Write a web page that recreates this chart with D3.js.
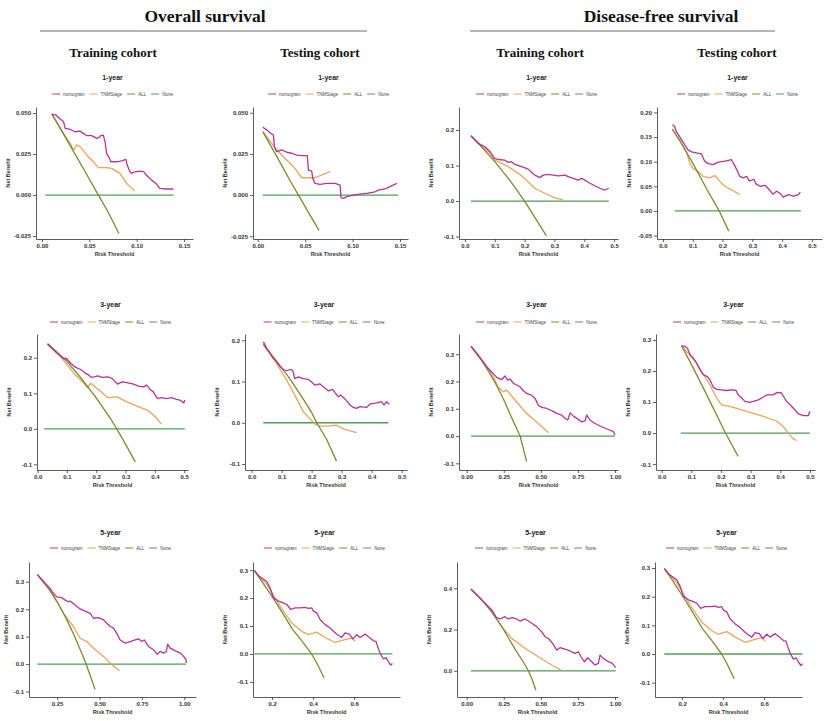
<!DOCTYPE html>
<html>
<head>
<meta charset="utf-8">
<script src="https://cdn.jsdelivr.net/npm/d3@7"></script>
<style>
  body { margin: 0; background: #fff; }
  svg { display: block; }
  .hdr { font-family: "Liberation Serif", "Times New Roman", serif; font-weight: bold; fill: #111; }
  .axis path, .axis line { stroke: #333; stroke-width: 0.8; }
  .axis text { font-family: "Liberation Sans", Arial, sans-serif; font-size: 6px; font-weight: bold; fill: #333; }
  .ptitle { font-family: "Liberation Sans", Arial, sans-serif; font-size: 7px; font-weight: bold; fill: #222; }
  .lab { font-family: "Liberation Sans", Arial, sans-serif; font-size: 5.5px; font-weight: bold; fill: #333; }
  .leg { font-family: "Liberation Sans", Arial, sans-serif; font-size: 4.5px; fill: #444; }
</style>
</head>
<body>
<svg id="fig" width="825" height="721"></svg>
<script>
'use strict';

var W = 825, H = 721;

// series names / colours
var seriesNames = ['nomogram', 'TNMStage', 'ALL', 'None'];
var seriesColors = ['#b3349a', '#e8a55c', '#7c8a30', '#4f9d55'];

// ---- Overall survival, training cohort, 1-year : [threshold, net benefit]
var osTr1Nomo = [[0.0105,0.0494],[0.015,0.0488],[0.017,0.0474],[0.0228,0.0447],[0.0245,0.0407],[0.03,0.0400],[0.035,0.0386],[0.04,0.039],[0.0438,0.0376],[0.0473,0.0362],[0.0526,0.0362],[0.0578,0.0346],[0.060,0.035],[0.062,0.0362],[0.0648,0.0366],[0.0666,0.0325],[0.0683,0.0254],[0.071,0.0228],[0.0729,0.0203],[0.0789,0.0203],[0.0841,0.0209],[0.0887,0.0217],[0.09,0.0183],[0.0929,0.0142],[0.0946,0.0132],[0.0981,0.0142],[0.1034,0.0146],[0.1076,0.0142],[0.11,0.0122],[0.1157,0.0091],[0.121,0.0067],[0.1244,0.0041],[0.1314,0.0037],[0.139,0.0037]];
var osTr1Tnm = [[0.0105,0.0494],[0.0228,0.0376],[0.0298,0.0315],[0.0333,0.0274],[0.0368,0.0305],[0.0403,0.0295],[0.0473,0.0244],[0.0543,0.0203],[0.0596,0.0167],[0.0683,0.0167],[0.0736,0.0163],[0.0824,0.0132],[0.0894,0.0071],[0.0981,0.0024]];
var osTr1All = [[0.0105,0.0494],[0.03,0.0300],[0.045,0.0148],[0.0596,0.0],[0.07,-0.0105],[0.0813,-0.0234]];
var osTr1None = [[0.0035,0],[0.139,0]];

// ---- Overall survival, testing cohort, 1-year
var osTe1Nomo = [[0.0053,0.0412],[0.0095,0.0396],[0.0137,0.0375],[0.0165,0.0365],[0.0176,0.0294],[0.02,0.0264],[0.0253,0.0274],[0.0306,0.026],[0.0358,0.0254],[0.0411,0.0243],[0.0464,0.0239],[0.0523,0.0239],[0.0534,0.0152],[0.0569,0.0146],[0.058,0.0101],[0.0604,0.0071],[0.0657,0.0065],[0.0727,0.0071],[0.0815,0.0071],[0.0868,0.0061],[0.0878,-0.0016],[0.0903,-0.002],[0.0938,-0.001],[0.1008,0.0],[0.1078,0.0006],[0.1149,0.001],[0.1236,0.002],[0.1272,0.003],[0.1342,0.0037],[0.1394,0.0051],[0.1465,0.0071]];
var osTe1Tnm = [[0.0053,0.0385],[0.02,0.0274],[0.0306,0.0213],[0.0393,0.0162],[0.0464,0.0105],[0.0551,0.0105],[0.0604,0.0105],[0.0692,0.0126],[0.0762,0.0142]];
var osTe1All = [[0.0053,0.0385],[0.02,0.0235],[0.035,0.0078],[0.0429,0.0],[0.055,-0.012],[0.0646,-0.0215]];
var osTe1None = [[0.0053,0],[0.148,0]];

// ---- Disease-free survival, training cohort, 1-year
var dfsTr1Nomo = [[0.02,0.184],[0.045,0.162],[0.067,0.153],[0.084,0.139],[0.1,0.12],[0.112,0.117],[0.134,0.115],[0.145,0.109],[0.156,0.111],[0.167,0.103],[0.19,0.097],[0.212,0.09],[0.223,0.081],[0.234,0.073],[0.251,0.066],[0.262,0.073],[0.279,0.075],[0.296,0.073],[0.3125,0.071],[0.335,0.073],[0.346,0.069],[0.363,0.064],[0.379,0.059],[0.391,0.064],[0.402,0.059],[0.413,0.053],[0.435,0.043],[0.452,0.036],[0.469,0.031],[0.482,0.036]];
var dfsTr1Tnm = [[0.02,0.184],[0.078,0.139],[0.1,0.115],[0.123,0.106],[0.145,0.097],[0.179,0.078],[0.206,0.059],[0.234,0.036],[0.268,0.022],[0.301,0.009],[0.329,0.003]];
var dfsTr1All = [[0.02,0.184],[0.05,0.158],[0.1,0.111],[0.15,0.059],[0.2,0.0],[0.25,-0.067],[0.273,-0.098]];
var dfsTr1None = [[0.02,0],[0.482,0]];

// ---- Disease-free survival, testing cohort, 1-year
var dfsTe1Nomo = [[0.0315,0.175],[0.039,0.172],[0.045,0.161],[0.056,0.151],[0.073,0.134],[0.084,0.124],[0.096,0.12],[0.112,0.118],[0.129,0.116],[0.14,0.101],[0.152,0.096],[0.169,0.094],[0.185,0.099],[0.208,0.101],[0.23,0.104],[0.242,0.091],[0.253,0.077],[0.258,0.07],[0.27,0.067],[0.281,0.07],[0.29,0.061],[0.306,0.064],[0.312,0.055],[0.326,0.05],[0.343,0.052],[0.354,0.045],[0.369,0.034],[0.382,0.04],[0.393,0.036],[0.404,0.028],[0.421,0.033],[0.438,0.03],[0.455,0.033],[0.461,0.038]];
var dfsTe1Tnm = [[0.0315,0.166],[0.062,0.138],[0.079,0.12],[0.09,0.097],[0.101,0.086],[0.118,0.08],[0.135,0.07],[0.157,0.067],[0.174,0.072],[0.191,0.06],[0.208,0.05],[0.23,0.043],[0.258,0.033]];
var dfsTe1All = [[0.0315,0.166],[0.06,0.139],[0.1,0.097],[0.15,0.041],[0.189,0.0],[0.221,-0.041]];
var dfsTe1None = [[0.039,0],[0.463,0]];

// ---- Overall survival, training cohort, 3-year
var osTr3Nomo = [[0.034,0.238],[0.068,0.212],[0.088,0.198],[0.099,0.198],[0.113,0.184],[0.13,0.173],[0.147,0.167],[0.164,0.156],[0.175,0.151],[0.183,0.145],[0.194,0.146],[0.205,0.149],[0.22,0.145],[0.239,0.146],[0.254,0.142],[0.265,0.132],[0.273,0.126],[0.288,0.132],[0.305,0.13],[0.327,0.126],[0.344,0.12],[0.361,0.118],[0.372,0.123],[0.384,0.111],[0.395,0.104],[0.401,0.095],[0.409,0.085],[0.423,0.088],[0.44,0.085],[0.457,0.088],[0.474,0.083],[0.485,0.081],[0.499,0.073],[0.502,0.081]];
var osTr3Tnm = [[0.034,0.238],[0.079,0.203],[0.124,0.156],[0.158,0.128],[0.169,0.116],[0.181,0.128],[0.209,0.109],[0.239,0.088],[0.271,0.09],[0.305,0.076],[0.339,0.064],[0.378,0.051],[0.401,0.034],[0.423,0.013]];
var osTr3All = [[0.034,0.24],[0.1,0.19],[0.15,0.141],[0.2,0.087],[0.25,0.027],[0.27,0.0],[0.3,-0.043],[0.333,-0.093]];
var osTr3None = [[0.023,0],[0.502,0]];

// ---- Overall survival, testing cohort, 3-year
var osTe3Nomo = [[0.039,0.196],[0.044,0.19],[0.05,0.18],[0.059,0.172],[0.072,0.156],[0.083,0.148],[0.094,0.137],[0.106,0.129],[0.117,0.126],[0.128,0.129],[0.137,0.127],[0.144,0.107],[0.156,0.111],[0.172,0.107],[0.189,0.105],[0.2,0.099],[0.211,0.091],[0.228,0.094],[0.239,0.087],[0.256,0.077],[0.27,0.081],[0.278,0.073],[0.289,0.063],[0.297,0.067],[0.306,0.061],[0.317,0.053],[0.328,0.043],[0.339,0.037],[0.35,0.035],[0.361,0.039],[0.383,0.037],[0.394,0.045],[0.417,0.048],[0.433,0.051],[0.441,0.043],[0.45,0.051],[0.459,0.045]];
var osTe3Tnm = [[0.039,0.19],[0.083,0.144],[0.117,0.103],[0.144,0.067],[0.172,0.027],[0.194,0.01],[0.211,-0.003],[0.228,-0.008],[0.256,-0.008],[0.283,-0.006],[0.311,-0.016],[0.35,-0.024]];
var osTe3All = [[0.039,0.19],[0.08,0.152],[0.12,0.114],[0.16,0.071],[0.2,0.025],[0.217,0.0],[0.25,-0.04],[0.283,-0.093]];
var osTe3None = [[0.039,0],[0.456,0]];

// ---- Disease-free survival, training cohort, 3-year
var dfsTr3Nomo = [[0.029,0.329],[0.079,0.296],[0.112,0.272],[0.135,0.254],[0.169,0.235],[0.202,0.215],[0.236,0.207],[0.258,0.22],[0.276,0.205],[0.292,0.209],[0.315,0.193],[0.337,0.187],[0.36,0.18],[0.382,0.166],[0.404,0.156],[0.434,0.15],[0.461,0.138],[0.483,0.113],[0.506,0.105],[0.539,0.101],[0.573,0.093],[0.607,0.083],[0.64,0.077],[0.663,0.065],[0.681,0.059],[0.697,0.085],[0.719,0.073],[0.753,0.061],[0.775,0.052],[0.798,0.056],[0.809,0.077],[0.831,0.059],[0.865,0.046],[0.91,0.034],[0.955,0.024],[0.989,0.016],[1.0,0.004]];
var dfsTr3Tnm = [[0.029,0.329],[0.124,0.262],[0.169,0.229],[0.213,0.178],[0.247,0.162],[0.27,0.168],[0.326,0.132],[0.393,0.089],[0.416,0.077],[0.483,0.046],[0.551,0.012]];
var dfsTr3All = [[0.029,0.329],[0.1,0.277],[0.15,0.235],[0.2,0.187],[0.25,0.133],[0.3,0.071],[0.36,0.0],[0.404,-0.094]];
var dfsTr3None = [[0.029,0],[1.0,0]];

// ---- Disease-free survival, testing cohort, 3-year
var dfsTe3Nomo = [[0.067,0.281],[0.079,0.279],[0.087,0.273],[0.096,0.252],[0.107,0.241],[0.118,0.225],[0.129,0.204],[0.14,0.188],[0.154,0.182],[0.163,0.171],[0.174,0.148],[0.185,0.141],[0.202,0.139],[0.219,0.137],[0.236,0.139],[0.251,0.137],[0.258,0.123],[0.27,0.113],[0.281,0.102],[0.296,0.099],[0.309,0.102],[0.326,0.107],[0.343,0.116],[0.356,0.123],[0.376,0.123],[0.39,0.131],[0.404,0.129],[0.412,0.116],[0.421,0.102],[0.433,0.091],[0.449,0.075],[0.461,0.062],[0.478,0.056],[0.494,0.056],[0.5,0.07]];
var dfsTe3Tnm = [[0.067,0.281],[0.118,0.225],[0.163,0.155],[0.185,0.113],[0.202,0.091],[0.23,0.086],[0.287,0.07],[0.343,0.054],[0.388,0.038],[0.41,0.021],[0.427,0.0],[0.444,-0.019],[0.455,-0.024]];
var dfsTe3All = [[0.067,0.281],[0.1,0.222],[0.15,0.127],[0.2,0.03],[0.215,0.0],[0.258,-0.075]];
var dfsTe3None = [[0.064,0],[0.5,0]];

// ---- Overall survival, training cohort, 5-year
var osTr5Nomo = [[0.134,0.326],[0.169,0.302],[0.209,0.276],[0.228,0.258],[0.248,0.245],[0.278,0.242],[0.298,0.233],[0.317,0.227],[0.327,0.23],[0.356,0.215],[0.386,0.201],[0.415,0.193],[0.445,0.185],[0.465,0.167],[0.494,0.169],[0.524,0.161],[0.543,0.149],[0.563,0.137],[0.583,0.131],[0.602,0.112],[0.622,0.088],[0.652,0.076],[0.681,0.082],[0.711,0.088],[0.73,0.092],[0.75,0.082],[0.764,0.088],[0.789,0.064],[0.819,0.052],[0.839,0.036],[0.858,0.046],[0.878,0.04],[0.894,0.046],[0.902,0.073],[0.917,0.058],[0.947,0.048],[0.976,0.04],[0.996,0.028],[1.01,0.016],[1.012,0.004]];
var osTr5Tnm = [[0.134,0.326],[0.228,0.252],[0.287,0.185],[0.346,0.137],[0.386,0.094],[0.425,0.082],[0.465,0.058],[0.524,0.028],[0.573,-0.002],[0.618,-0.024]];
var osTr5All = [[0.134,0.326],[0.2,0.275],[0.25,0.227],[0.3,0.171],[0.35,0.106],[0.4,0.033],[0.421,0.0],[0.45,-0.05],[0.474,-0.093]];
var osTr5None = [[0.134,0],[1.01,0]];

// ---- Overall survival, testing cohort, 5-year
var osTe5Nomo = [[0.114,0.298],[0.133,0.28],[0.158,0.267],[0.174,0.259],[0.19,0.237],[0.207,0.201],[0.231,0.189],[0.255,0.183],[0.272,0.177],[0.291,0.159],[0.312,0.165],[0.337,0.165],[0.361,0.167],[0.377,0.163],[0.393,0.165],[0.402,0.153],[0.418,0.147],[0.434,0.123],[0.459,0.105],[0.483,0.093],[0.499,0.081],[0.519,0.069],[0.54,0.059],[0.556,0.075],[0.577,0.071],[0.594,0.054],[0.613,0.069],[0.629,0.059],[0.654,0.071],[0.675,0.059],[0.694,0.047],[0.707,0.045],[0.719,0.018],[0.73,-0.001],[0.743,-0.018],[0.756,-0.013],[0.768,-0.028],[0.779,-0.04],[0.787,-0.034]];
var osTe5Tnm = [[0.114,0.298],[0.174,0.249],[0.239,0.171],[0.296,0.111],[0.345,0.081],[0.377,0.069],[0.418,0.078],[0.459,0.059],[0.507,0.041],[0.556,0.051],[0.589,0.057],[0.605,0.045]];
var osTe5All = [[0.114,0.298],[0.15,0.26],[0.2,0.205],[0.25,0.148],[0.3,0.088],[0.35,0.042],[0.393,0.0],[0.42,-0.035],[0.454,-0.086]];
var osTe5None = [[0.114,0],[0.787,0]];

// ---- Disease-free survival, training cohort, 5-year
var dfsTr5Nomo = [[0.029,0.395],[0.079,0.36],[0.124,0.327],[0.169,0.295],[0.202,0.257],[0.225,0.251],[0.258,0.262],[0.281,0.251],[0.308,0.257],[0.337,0.251],[0.36,0.241],[0.393,0.251],[0.416,0.241],[0.438,0.23],[0.472,0.214],[0.506,0.189],[0.528,0.165],[0.555,0.154],[0.584,0.128],[0.607,0.1],[0.629,0.112],[0.663,0.105],[0.697,0.096],[0.73,0.084],[0.753,0.092],[0.771,0.068],[0.793,0.044],[0.816,0.063],[0.843,0.044],[0.865,0.028],[0.888,0.036],[0.899,0.076],[0.921,0.06],[0.955,0.044],[0.982,0.036],[1.004,0.015]];
var dfsTr5Tnm = [[0.029,0.395],[0.146,0.311],[0.236,0.214],[0.303,0.157],[0.393,0.109],[0.483,0.068],[0.573,0.028],[0.636,0.003]];
var dfsTr5All = [[0.029,0.397],[0.1,0.345],[0.169,0.285],[0.236,0.215],[0.281,0.16],[0.33,0.1],[0.38,0.045],[0.416,0.0],[0.44,-0.04],[0.467,-0.094]];
var dfsTr5None = [[0.029,0],[1.004,0]];

// ---- Disease-free survival, testing cohort, 5-year
// the source figure shows the same curves here as in the OS testing 5-year panel
var dfsTe5Nomo = osTe5Nomo;
var dfsTe5Tnm = osTe5Tnm;
var dfsTe5All = osTe5All;
var dfsTe5None = osTe5None;

// tick labels
var ticks1yX = [0, 0.05, 0.10, 0.15];
var ticks1yOsY = [-0.025, 0, 0.025, 0.05];
var ticksTenthX = [0, 0.1, 0.2, 0.3, 0.4, 0.5];
var ticksQuarterX = [0, 0.25, 0.5, 0.75, 1.0];
var ticksQuarterX2 = [0.25, 0.5, 0.75, 1.0];
var ticksFifthX = [0.2, 0.4, 0.6];
var ticksY3 = [-0.1, 0, 0.1, 0.2];
var ticksY4 = [-0.1, 0, 0.1, 0.2, 0.3];
var ticksDfsTe1Y = [-0.05, 0, 0.05, 0.10, 0.15, 0.20];
var ticksDfsTr5Y = [0, 0.2, 0.4];

// layout (px) -- rows share top / bottom / title / legend positions
var rows = [
  {top: 107, bottom: 239, title: 77, legend: 94, label: '1-year'},
  {top: 334, bottom: 470, title: 304, legend: 322, label: '3-year'},
  {top: 562, bottom: 697, title: 532, legend: 548, label: '5-year'}
];

var panels = [
  {row:0, left:36,  right:193, xd:[-0.0063,0.1595], yd:[-0.0268,0.0537], xt:ticks1yX, xf:'.2f', yt:ticks1yOsY, yf:'.3f', s:[osTr1Nomo,osTr1Tnm,osTr1All,osTr1None]},
  {row:0, left:253, right:408, xd:[-0.005,0.1584],  yd:[-0.0267,0.0535], xt:ticks1yX, xf:'.2f', yt:ticks1yOsY, yf:'.3f', s:[osTe1Nomo,osTe1Tnm,osTe1All,osTe1None]},
  {row:0, left:459, right:618, xd:[-0.02,0.513],    yd:[-0.107,0.265],   xt:ticksTenthX, xf:'.1f', yt:ticksY3, yf:'.1f', s:[dfsTr1Nomo,dfsTr1Tnm,dfsTr1All,dfsTr1None]},
  {row:0, left:657, right:822, xd:[-0.02,0.534],    yd:[-0.057,0.211],   xt:ticksTenthX, xf:'.1f', yt:ticksDfsTe1Y, yf:'.2f', s:[dfsTe1Nomo,dfsTe1Tnm,dfsTe1All,dfsTe1None]},

  {row:1, left:37,  right:188, xd:[-0.002,0.513],   yd:[-0.116,0.267],   xt:ticksTenthX, xf:'.1f', yt:ticksY3, yf:'.1f', s:[osTr3Nomo,osTr3Tnm,osTr3All,osTr3None]},
  {row:1, left:245, right:407, xd:[-0.022,0.518],   yd:[-0.1145,0.215],  xt:ticksTenthX, xf:'.1f', yt:ticksY3, yf:'.1f', s:[osTe3Nomo,osTe3Tnm,osTe3All,osTe3None]},
  {row:1, left:459, right:618, xd:[-0.052,1.02],    yd:[-0.1245,0.374],  xt:ticksQuarterX, xf:'.2f', yt:ticksY4, yf:'.1f', s:[dfsTr3Nomo,dfsTr3Tnm,dfsTr3All,dfsTr3None]},
  {row:1, left:656, right:815, xd:[-0.019,0.517],   yd:[-0.119,0.319],   xt:ticksTenthX, xf:'.1f', yt:ticksY4, yf:'.1f', s:[dfsTe3Nomo,dfsTe3Tnm,dfsTe3All,dfsTe3None]},

  {row:2, left:29,  right:196, xd:[0.0845,1.069],   yd:[-0.12,0.372],    xt:ticksQuarterX2, xf:'.2f', yt:ticksY4, yf:'.1f', s:[osTr5Nomo,osTr5Tnm,osTr5All,osTr5None]},
  {row:2, left:253, right:400, xd:[0.107,0.824],    yd:[-0.154,0.329],   xt:ticksFifthX, xf:'.1f', yt:ticksY4, yf:'.1f', s:[osTe5Nomo,osTe5Tnm,osTe5All,osTe5None]},
  {row:2, left:457, right:618, xd:[-0.065,1.02],    yd:[-0.127,0.527],   xt:ticksQuarterX, xf:'.2f', yt:ticksDfsTr5Y, yf:'.1f', s:[dfsTr5Nomo,dfsTr5Tnm,dfsTr5All,dfsTr5None]},
  {row:2, left:655, right:802, xd:[0.068,0.785],    yd:[-0.15,0.321],    xt:ticksFifthX, xf:'.1f', yt:ticksY4, yf:'.1f', s:[dfsTe5Nomo,dfsTe5Tnm,dfsTe5All,dfsTe5None]}
];

var svg = d3.select('#fig');
svg.append('rect').attr('width', W).attr('height', H).attr('fill', '#fff');

// group headers
function header(txt, cx, x1, x2) {
  svg.append('text').attr('class', 'hdr').attr('x', cx).attr('y', 22)
    .attr('text-anchor', 'middle').style('font-size', '17.5px').text(txt);
  svg.append('line').attr('x1', x1).attr('x2', x2).attr('y1', 31).attr('y2', 31)
    .attr('stroke', '#444').attr('stroke-width', 0.8);
}
header('Overall survival', 205, 40, 367);
header('Disease-free survival', 661, 470, 775);

var cohortLabels = ['Training cohort', 'Testing cohort', 'Training cohort', 'Testing cohort'];
var cohortX = [113, 320, 540, 737];
cohortLabels.forEach(function(t, i){
  svg.append('text').attr('class', 'hdr').attr('x', cohortX[i]).attr('y', 57)
    .attr('text-anchor', 'middle').style('font-size', '13px').text(t);
});

function fmt(f){
  var base = d3.format(f);
  return function(d){ return base(d).replace('\u2212', '-'); };
}

panels.forEach(function(p){
  var r = rows[p.row];
  var x = d3.scaleLinear().domain(p.xd).range([p.left, p.right]);
  var y = d3.scaleLinear().domain(p.yd).range([r.bottom, r.top]);
  var g = svg.append('g');
  var cx = (p.left + p.right) / 2;

  // axes
  g.append('g').attr('class', 'axis').attr('transform', 'translate(0,' + r.bottom + ')')
    .call(d3.axisBottom(x).tickValues(p.xt).tickFormat(fmt(p.xf)).tickSize(3).tickSizeOuter(0).tickPadding(2));
  g.append('g').attr('class', 'axis').attr('transform', 'translate(' + p.left + ',0)')
    .call(d3.axisLeft(y).tickValues(p.yt).tickFormat(fmt(p.yf)).tickSize(3).tickSizeOuter(0).tickPadding(2));

  // axis titles
  g.append('text').attr('class', 'lab').attr('x', cx).attr('y', r.bottom + 17)
    .attr('text-anchor', 'middle').text('Risk Threshold');
  g.append('text').attr('class', 'lab')
    .attr('transform', 'translate(' + Math.max(p.left - 26, 8) + ',' + ((r.top + r.bottom) / 2) + ') rotate(-90)')
    .attr('text-anchor', 'middle').text('Net Benefit');

  // panel title
  g.append('text').attr('class', 'ptitle').attr('x', cx - 2).attr('y', r.title + 2.5)
    .attr('text-anchor', 'middle').text(r.label);

  // legend
  var leg = g.append('g');
  var pos = 0;
  seriesNames.forEach(function(n, i){
    leg.append('line').attr('x1', pos).attr('x2', pos + 8).attr('y1', 0).attr('y2', 0)
      .attr('stroke', seriesColors[i]).attr('stroke-width', 1);
    var t = leg.append('text').attr('class', 'leg').attr('x', pos + 11).attr('y', 1.6).text(n);
    pos += 11 + t.node().getComputedTextLength() + 5;
  });
  leg.attr('transform', 'translate(' + (cx - 2 - (pos - 5) / 2) + ',' + r.legend + ')');

  // curves: None, TNMStage, ALL, nomogram
  var line = d3.line().x(function(d){ return x(d[0]); }).y(function(d){ return y(d[1]); });
  [3, 1, 2, 0].forEach(function(i){
    g.append('path').datum(p.s[i]).attr('d', line)
      .attr('fill', 'none').attr('stroke', seriesColors[i])
      .attr('stroke-width', 1.3).attr('stroke-linejoin', 'round');
  });
});
</script>
</body>
</html>
